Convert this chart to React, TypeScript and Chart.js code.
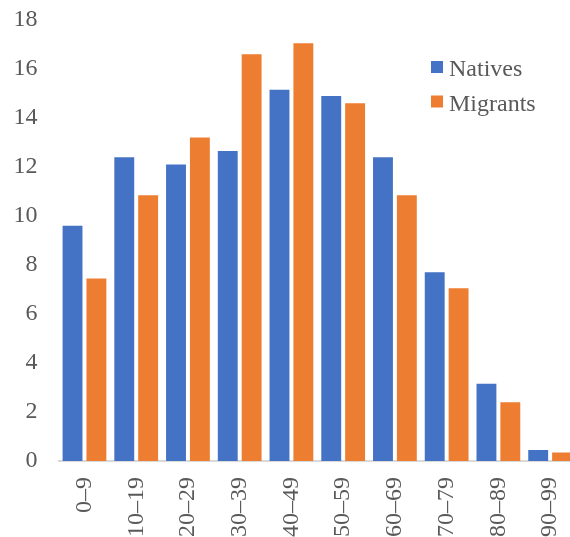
import React, { useEffect, useRef } from "react";
import { Chart, registerables } from "chart.js";

Chart.register(...registerables);

const categories = ["0–9", "10–19", "20–29", "30–39", "40–49", "50–59", "60–69", "70–79", "80–89", "90–99"];
const natives = [9.6, 12.4, 12.1, 12.65, 15.15, 14.9, 12.4, 7.7, 3.15, 0.45];
const migrants = [7.45, 10.85, 13.2, 16.6, 17.05, 14.6, 10.85, 7.05, 2.4, 0.35];
const seriesNames = ["Natives", "Migrants"];
const yMin = 0;
const yMax = 18;
const yStep = 2;

const FONT = "'Liberation Serif', 'Times New Roman', serif";
const TEXT = "#595959";

const legendPlugin = {
  id: "insideLegend",
  afterDraw(chart: any) {
    const ctx = chart.ctx;
    ctx.save();
    ctx.font = `24px ${FONT}`;
    ctx.textBaseline = "alphabetic";
    ctx.textAlign = "left";
    chart.data.datasets.forEach((ds: any, i: number) => {
      const y = 61 + i * 34.5;
      ctx.fillStyle = ds.backgroundColor;
      ctx.fillRect(431, y, 12, 12);
      ctx.fillStyle = TEXT;
      ctx.fillText(ds.label, 449, y + 15);
    });
    ctx.restore();
  },
};

export default function App() {
  const ref = useRef<HTMLCanvasElement>(null);
  useEffect(() => {
    document.documentElement.style.overflow = "hidden";
    document.body.style.overflow = "hidden";
    const chart = new Chart(ref.current as HTMLCanvasElement, {
      type: "bar",
      data: {
        labels: categories,
        datasets: [
          {
            label: seriesNames[0],
            data: natives,
            backgroundColor: "#4472C4",
            barPercentage: 0.833,
            categoryPercentage: 0.923,
          },
          {
            label: seriesNames[1],
            data: migrants,
            backgroundColor: "#ED7D31",
            barPercentage: 0.833,
            categoryPercentage: 0.923,
          },
        ],
      },
      options: {
        animation: false,
        responsive: false,
        devicePixelRatio: 1,
        layout: { padding: { top: 20, left: 0, right: 0, bottom: 0 } },
        plugins: { legend: { display: false }, tooltip: { enabled: false } },
        scales: {
          x: {
            grid: { display: false, drawTicks: false },
            border: { display: true, color: "#D9D9D9", width: 2 },
            ticks: {
              font: { family: FONT, size: 24 },
              color: TEXT,
              minRotation: 90,
              maxRotation: 90,
              autoSkip: false,
              padding: 16,
            },
            afterFit(s: any) {
              s.height = 76;
              s.paddingLeft = 0;
              s.paddingRight = 0;
            },
          },
          y: {
            min: yMin,
            max: yMax,
            grid: { display: false, drawTicks: false },
            border: { display: false },
            ticks: {
              stepSize: yStep,
              font: { family: FONT, size: 24 },
              color: TEXT,
              padding: 21,
            },
            afterFit(s: any) {
              s.width = 58.6;
              s.paddingTop = 0;
              s.paddingBottom = 0;
            },
          },
        },
      },
      plugins: [legendPlugin],
    });
    return () => chart.destroy();
  }, []);
  return (
    <div style={{ position: "fixed", left: 0, top: 0, width: 576, height: 537, background: "#fff" }}>
      <canvas ref={ref} width={576} height={537} />
    </div>
  );
}
